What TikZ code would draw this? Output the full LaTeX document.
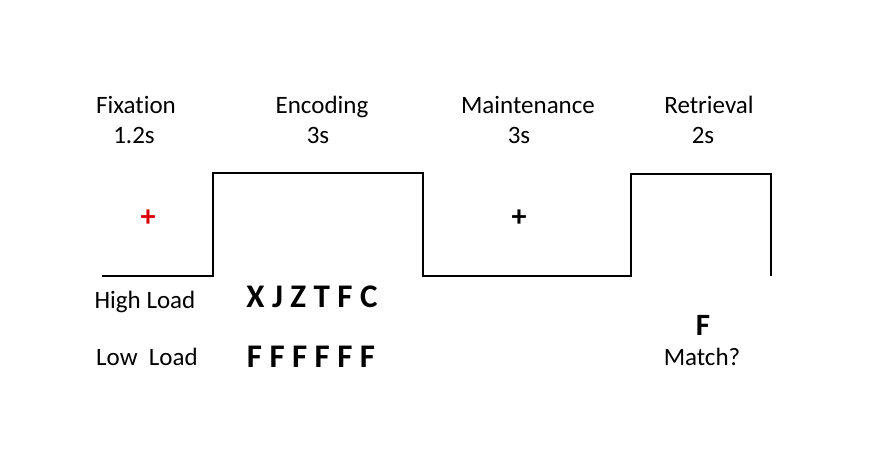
\documentclass[tikz,border=0pt]{standalone}
\usepackage{fontspec}
\setmainfont{Carlito}[Ligatures=NoCommon]
\begin{document}
\begin{tikzpicture}[x=1pt, y=-1pt, line width=1.5pt,
    lbl/.style={anchor=base, inner sep=0pt, font=\fontsize{25}{28}\selectfont},
    stim/.style={anchor=base, inner sep=0pt, font=\fontsize{33}{36}\selectfont\bfseries}]
        \useasboundingbox (0,0) rectangle (895,466);

        % 阶段标题
        \node[lbl] (fix) at (136,113) {Fixation};
        \node[lbl] (enc) at (322,113) {Encoding};
        \node[lbl] (mnt) at (528,113) {Maintenance};
        \node[lbl] (ret) at (709,113) {Retrieval};
        \node[lbl] (tfix) at (134,143) {1.2s};
        \node[lbl] (tenc) at (318,143) {3s};
        \node[lbl] (tmnt) at (519,143) {3s};
        \node[lbl] (tret) at (703,143) {2s};

        % 时间线
        \draw (102,276) -- (213,276) -- (213,173) -- (423,173) -- (423,276)
              -- (631,276) -- (631,174) -- (771,174) -- (771,276);

        % 注视点
        \node[stim, font=\fontsize{30}{34}\selectfont\bfseries, text=red!85!black] (cfix) at (148,226) {+};
        \node[stim, font=\fontsize{30}{34}\selectfont\bfseries] (cmnt) at (519,226) {+};

        % 刺激
        \node[lbl] (high) at (145,308) {High Load};
        \node[lbl] (low) at (147,365) {Low\ \ Load};
        \node[stim] (shigh) at (312,307) {X J Z T F C};
        \node[stim] (slow) at (311,367) {F F F F F F};
        \node[stim, font=\fontsize{31}{34}\selectfont\bfseries] (probe) at (703,335) {F};
        \node[lbl] (match) at (702,365) {Match?};
    \end{tikzpicture}
\end{document}
